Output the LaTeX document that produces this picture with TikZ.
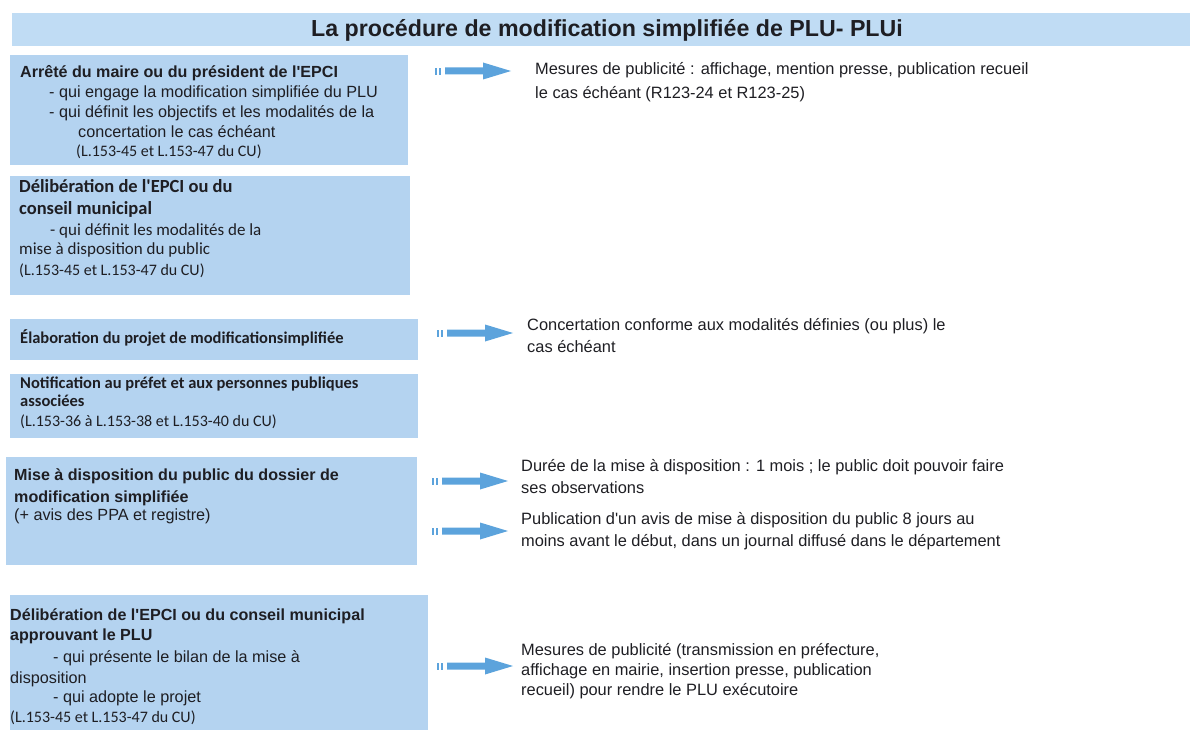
\documentclass[tikz,border=0pt]{standalone}
\usepackage{fontspec}
\setmainfont{Liberation Sans}
\newfontfamily\calib{Carlito}
\definecolor{boxblue}{RGB}{180,211,240}
\definecolor{titleblue}{RGB}{192,220,244}
\definecolor{arrowblue}{RGB}{92,163,220}
\definecolor{ink}{RGB}{30,30,35}
\newcommand{\apo}{\textquotesingle}
\tikzset{
  stepbox/.style={fill=boxblue, draw=none},
  ln/.style={anchor=base west, inner sep=0pt, text=ink, font=\fontsize{16.2}{18}\selectfont},
  lb/.style={ln, font=\fontsize{16.1}{18}\selectfont\bfseries},
  cl/.style={ln, font=\calib\fontsize{17}{18}\selectfont},
  cb/.style={ln, font=\calib\fontsize{18.5}{20}\selectfont\bfseries},
  cbs/.style={ln, font=\calib\fontsize{16.5}{18}\selectfont\bfseries},
  cs/.style={ln, font=\calib\fontsize{16}{18}\selectfont},
  rt/.style={ln, font=\fontsize{16.4}{18}\selectfont},
  fatarrow/.pic={
    \fill[arrowblue] (0,-3) rectangle (2,4);
    \fill[arrowblue] (4,-3) rectangle (6,4);
    \fill[arrowblue] (10,-3.5) -- (48,-3.5) -- (48,-8.5) -- (76,0) -- (48,8.5) -- (48,3.5) -- (10,3.5) -- cycle;
  }
}
\begin{document}
\begin{tikzpicture}[x=1pt,y=-1pt]
\useasboundingbox (0,0) rectangle (1193,730);
% title
\fill[titleblue] (12,13) rectangle (1190,46);
\node[anchor=center, inner sep=0pt, text=ink, font=\fontsize{23.2}{26}\selectfont\bfseries] (title) at (607,30) {La procédure de modification simplifiée de PLU- PLUi};
% boxes
\path[stepbox] (10,55) rectangle (408,165);
\path[stepbox] (10,176) rectangle (410,295);
\path[stepbox] (10,319) rectangle (418,360);
\path[stepbox] (10,374) rectangle (418,438);
\path[stepbox] (6,457) rectangle (417,565);
\path[stepbox] (10,595) rectangle (428,730);
% box 1
\node[lb] (a1) at (20,78) {Arrêté du maire ou du président de l\apo EPCI};
\node[ln] (a2) at (49,98) {- qui engage la modification simplifiée du PLU};
\node[ln] (a3) at (49,118) {- qui définit les objectifs et les modalités de la};
\node[ln] (a4) at (78,138) {concertation le cas échéant};
\node[cs] (a5) at (76,157) {(L.153-45 et L.153-47 du CU)};
% box 2
\node[cb] (b1) at (19,193) {Délibération de l\apo EPCI ou du};
\node[cb] (b2) at (19,214) {conseil municipal};
\node[cl] (b3) at (50,235) {- qui définit les modalités de la};
\node[cl] (b4) at (19,254) {mise à disposition du public};
\node[cs] (b5) at (19,275) {(L.153-45 et L.153-47 du CU)};
% box 3
\node[cbs] (c1) at (20,343) {Élaboration du projet de modificationsimplifiée};
% box 4
\node[cbs] (d1) at (20,388) {Notification au préfet et aux personnes publiques};
\node[cbs] (d2) at (20,406) {associées};
\node[cs] (d3) at (20,426) {(L.153-36 à L.153-38 et L.153-40 du CU)};
% box 5
\node[lb] (e1) at (14,480) {Mise à disposition du public du dossier de};
\node[lb] (e2) at (14,502) {modification simplifiée};
\node[ln] (e3) at (14,520) {(+ avis des PPA et registre)};
% box 6
\node[lb] (f1) at (10,620) {Délibération de l\apo EPCI ou du conseil municipal};
\node[lb] (f2) at (10,640) {approuvant le PLU};
\node[ln] (f3) at (53,662) {- qui présente le bilan de la mise à};
\node[ln] (f4) at (10,683) {disposition};
\node[ln] (f5) at (53,702) {- qui adopte le projet};
\node[cs] (f6) at (10,722) {(L.153-45 et L.153-47 du CU)};
% arrows
\pic at (435,71) {fatarrow};
\pic at (437,333) {fatarrow};
\pic at (432,481) {fatarrow};
\pic at (432,531) {fatarrow};
\pic at (437,666) {fatarrow};
% right texts
\node[rt] (r1a) at (535,75) {Mesures de publicité : affichage, mention presse, publication recueil};
\node[rt] (r1b) at (535,99) {le cas échéant (R123-24 et R123-25)};
\node[rt] (r2a) at (527,330) {Concertation conforme aux modalités définies (ou plus) le};
\node[rt] (r2b) at (527,352) {cas échéant};
\node[rt] (r3a) at (521,471) {Durée de la mise à disposition : 1 mois ; le public doit pouvoir faire};
\node[rt] (r3b) at (521,493) {ses observations};
\node[rt] (r4a) at (521,524) {Publication d\apo un avis de mise à disposition du public 8 jours au};
\node[rt] (r4b) at (521,546) {moins avant le début, dans un journal diffusé dans le département};
\node[rt] (r5a) at (521,655) {Mesures de publicité (transmission en préfecture,};
\node[rt] (r5b) at (521,675) {affichage en mairie, insertion presse, publication};
\node[rt] (r5c) at (521,695) {recueil) pour rendre le PLU exécutoire};
\end{tikzpicture}
\end{document}
